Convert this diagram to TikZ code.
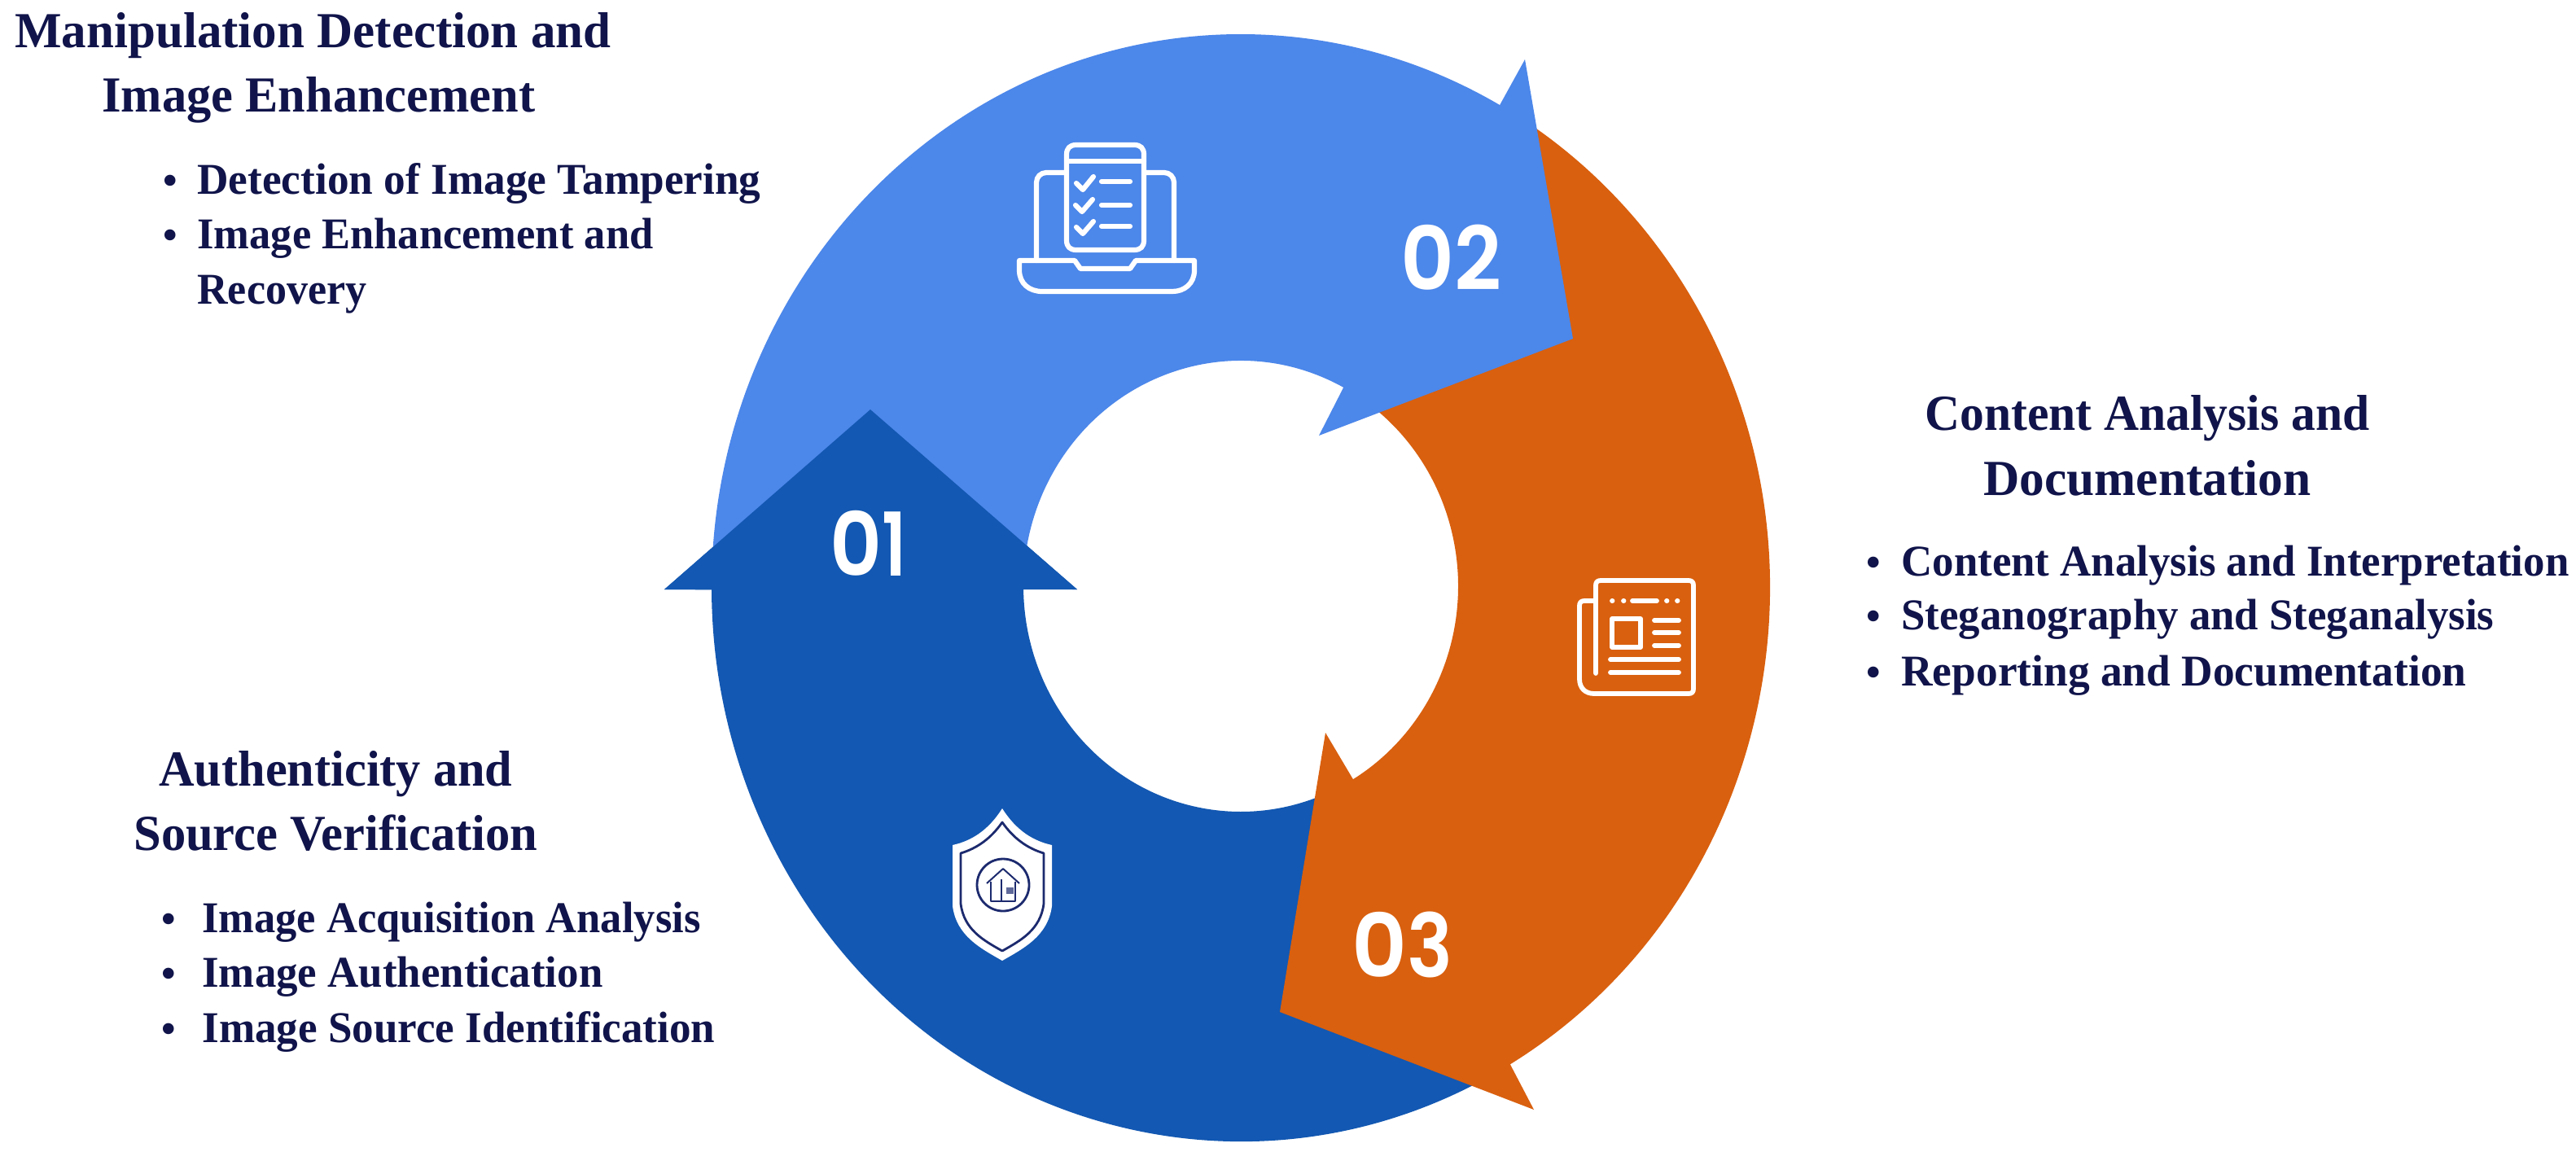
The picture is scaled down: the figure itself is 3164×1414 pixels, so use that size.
\documentclass[tikz,border=0pt]{standalone}
\usepackage{fontspec}
\usepackage{graphicx}
\setmainfont{Liberation Serif}
\newfontfamily\numfont{Poppins SemiBold}
\definecolor{lightb}{HTML}{4C87EA}
\definecolor{darkb}{HTML}{1358B2}
\definecolor{orng}{HTML}{D9600F}
\definecolor{navy}{HTML}{10144A}
\definecolor{shieldline}{HTML}{1C2A6E}
\newcommand{\fitw}[2]{\resizebox{#1}{\height}{#2}}
\tikzset{
  x=0.5pt,y=-0.5pt,
  title/.style={anchor=base west,inner sep=0pt,text=navy,font=\fontsize{31}{31}\selectfont\bfseries},
  item/.style={anchor=base west,inner sep=0pt,text=navy,font=\fontsize{27}{27}\selectfont\bfseries},
  bull/.style={anchor=base west,inner sep=0pt,text=navy,font=\fontsize{25}{25}\selectfont\bfseries},
  num/.style={anchor=base,inner sep=0pt,text=white,font=\fontsize{54}{54}\numfont},
  ico/.style={draw=white,line width=3.1pt,line cap=round,line join=round},
  icothin/.style={draw=white,line width=2.9pt,line cap=round,line join=round},
  shld/.style={draw=shieldline,line width=1.4pt,line join=round}
}
\begin{document}
\begin{tikzpicture}
\useasboundingbox (0,0) rectangle (3164,1414);
\fill[white] (0,0) rectangle (3164,1414);
\coordinate (oc) at (1524,722);
\coordinate (ic) at (1524,720);
% dark blue arrow (full)
\path (oc) ++(179.8:650 and 680) coordinate (dO);
\path (ic) ++(179.2:267 and 277) coordinate (dI);
\path (oc) ++(62:650 and 680) coordinate (dOe);
\path (ic) ++(66:267 and 277) coordinate (dIe);
\fill[darkb] (dO) -- (816,724) -- (1069,503) -- (1323,724) -- (dI)
  arc[start angle=179.2,end angle=66,x radius=267,y radius=277]
  -- (dOe)
  arc[start angle=62,end angle=179.8,x radius=650,y radius=680] -- cycle;
% orange arrow
\path (oc) ++(59.4:650 and 680) coordinate (oO);
\path (ic) ++(-55:267 and 277) coordinate (oIe);
\fill[orng] (oO)
  arc[start angle=59.4,end angle=-59,x radius=650,y radius=680]
  -- (oIe)
  arc[start angle=-55,end angle=58.9,x radius=267,y radius=277]
  -- (1628,900) -- (1572,1243) -- (1884,1363) -- cycle;
% light blue arrow
\path (oc) ++(-180:650 and 680) coordinate (lO);
\path (ic) ++(-61.8:267 and 277) coordinate (lI);
\fill[lightb] (lO)
  arc[start angle=-180,end angle=-60.7,x radius=650,y radius=680]
  -- (1873,73) -- (1932,416) -- (1620,535) -- (lI)
  arc[start angle=-61.8,end angle=-180,x radius=267,y radius=277] -- cycle;
% dark blue head on top of the light arrow's tail
\fill[darkb] (816,724) -- (1069,503) -- (1323,724) -- cycle;
% numbers
\node[num] (n1) at (1066,707) {\fitw{32pt}{0}\fitw{15pt}{1}};
\node[num] (n2) at (1782,356) {\fitw{33pt}{0}\fitw{29pt}{2}};
\node[num] (n3) at (1722,1200) {\fitw{34pt}{0}\fitw{28pt}{3}};
% laptop icon
\draw[ico] (1310,190) .. controls (1310,182) and (1314,178) .. (1322,178) -- (1393,178) .. controls (1401,178) and (1405,182) .. (1405,190) -- (1405,295) .. controls (1405,303) and (1401,307) .. (1393,307) -- (1322,307) .. controls (1314,307) and (1310,303) .. (1310,295) -- cycle;
\draw[ico] (1310,198) -- (1405,198);
\draw[ico,rounded corners=6pt] (1308,212) -- (1273,212) -- (1273,320);
\draw[ico,rounded corners=6pt] (1405,212) -- (1442,212) -- (1442,320);
\draw[ico] (1252,320) -- (1320,320) -- (1327,330) -- (1388,330) -- (1395,320) -- (1467,320) -- (1467,332) .. controls (1467,348) and (1455,358) .. (1440,358) -- (1280,358) .. controls (1264,358) and (1252,348) .. (1252,332) -- cycle;
\draw[ico] (1322,225) -- (1330,233) -- (1343,217);
\draw[ico] (1321,252) -- (1329,260) -- (1342,245);
\draw[ico] (1322,279) -- (1330,287) -- (1343,272);
\draw[ico] (1353,223) -- (1388,223);
\draw[ico] (1353,252) -- (1388,252);
\draw[ico] (1353,278) -- (1388,278);
% newspaper icon
\draw[icothin] (1960,827) -- (1960,719) .. controls (1960,715) and (1962,713) .. (1966,713) -- (2074,713) .. controls (2078,713) and (2080,715) .. (2080,719) -- (2080,846) .. controls (2080,850) and (2078,852) .. (2074,852) -- (1958,852) .. controls (1947,852) and (1940,845) .. (1940,834) -- (1940,744) .. controls (1940,740) and (1942,738) .. (1946,738) -- (1960,738);
\draw[icothin] (1980,738) -- (1980.5,738);
\draw[icothin] (1994,738) -- (1994.5,738);
\draw[icothin] (2005,738) -- (2035,738);
\draw[icothin] (2047,738) -- (2047.5,738);
\draw[icothin] (2060,738) -- (2060.5,738);
\draw[icothin] (1980,760) rectangle (2015,795);
\draw[icothin] (2032,762) -- (2062,762);
\draw[icothin] (2032,777) -- (2062,777);
\draw[icothin] (2032,793) -- (2062,793);
\draw[icothin] (1978,810) -- (2062,810);
\draw[icothin] (1978,826) -- (2062,826);
% shield icon
\fill[white] (1231,993) .. controls (1214,1020) and (1193,1033) .. (1170,1038) -- (1170,1113) .. controls (1175,1150) and (1205,1165) .. (1231,1180) .. controls (1257,1165) and (1287,1150) .. (1292,1113) -- (1292,1038) .. controls (1269,1033) and (1248,1020) .. (1231,993) -- cycle;
\draw[shld] (1231,1010) .. controls (1217,1030) and (1200,1042) .. (1180,1048) -- (1180,1110) .. controls (1184,1142) and (1208,1155) .. (1231,1168) .. controls (1254,1155) and (1278,1142) .. (1282,1110) -- (1282,1048) .. controls (1262,1042) and (1245,1030) .. (1231,1010) -- cycle;
\draw[shld] (1232,1087) circle[radius=32];
\draw[shld,line width=1pt] (1212,1085) -- (1232,1067) -- (1252,1085);
\draw[shld,line width=1pt] (1217,1083) -- (1217,1107) -- (1247,1107) -- (1247,1083);
\draw[shld,line width=1pt] (1230,1080) -- (1230,1107);
\fill[shieldline!70!white] (1236,1090) rectangle (1245,1098);
% left-top text
\node[title] (t1a) at (18,58) {\fitw{366pt}{Manipulation Detection and}};
\node[title] (t1b) at (125,137) {\fitw{266pt}{Image Enhancement}};
\node[bull] (b1a) at (200,238) {•};
\node[item] (i1a) at (242,238) {\fitw{346pt}{Detection of Image Tampering}};
\node[bull] (b1b) at (200,305) {•};
\node[item] (i1b) at (242,305) {\fitw{280pt}{Image Enhancement and}};
\node[item] (i1c) at (242,373) {\fitw{104pt}{Recovery}};
% right text
\node[title] (t2a) at (2364,528) {\fitw{273pt}{Content Analysis and}};
\node[title] (t2b) at (2436,608) {\fitw{201pt}{Documentation}};
\node[bull] (b2a) at (2292,707) {•};
\node[item] (i2a) at (2335,707) {\fitw{410pt}{Content Analysis and Interpretation}};
\node[bull] (b2b) at (2292,773) {•};
\node[item] (i2b) at (2335,773) {\fitw{364pt}{Steganography and Steganalysis}};
\node[bull] (b2c) at (2292,842) {•};
\node[item] (i2c) at (2335,842) {\fitw{347pt}{Reporting and Documentation}};
% left-bottom text
\node[title] (t3a) at (195,965) {\fitw{217pt}{Authenticity and}};
\node[title] (t3b) at (164,1044) {\fitw{248pt}{Source Verification}};
\node[bull] (b3a) at (198,1145) {•};
\node[item] (i3a) at (248,1145) {\fitw{306pt}{Image Acquisition Analysis}};
\node[bull] (b3b) at (198,1212) {•};
\node[item] (i3b) at (248,1212) {\fitw{246pt}{Image Authentication}};
\node[bull] (b3c) at (198,1280) {•};
\node[item] (i3c) at (248,1280) {\fitw{315pt}{Image Source Identification}};
\end{tikzpicture}
\end{document}
